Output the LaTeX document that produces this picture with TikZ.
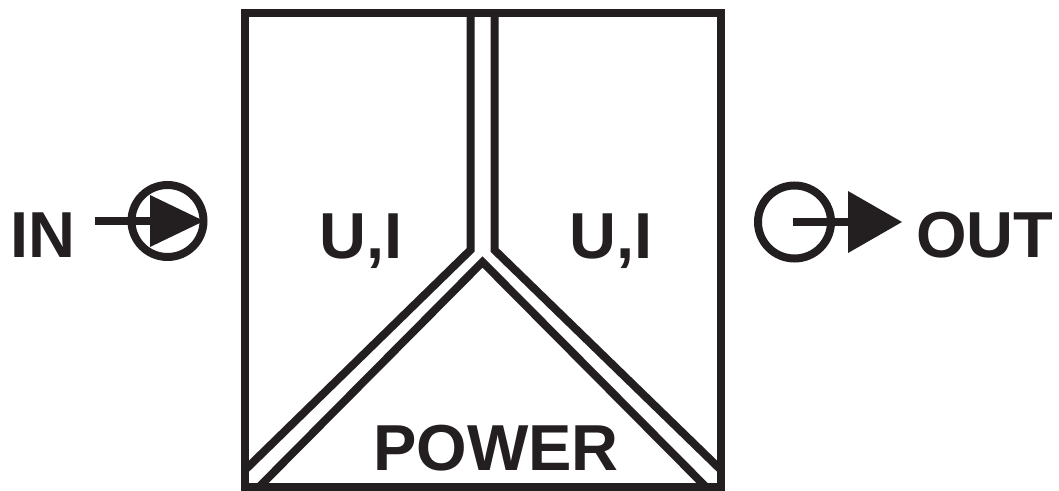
\documentclass[tikz,border=0pt]{standalone}
\usepackage{fontspec}
\setmainfont{Liberation Sans}
\definecolor{ink}{HTML}{231F20}
\tikzset{
  wire/.style={draw=ink,line width=8pt,line cap=butt,line join=miter},
  tip/.style={fill=ink,draw=none},
  lbl/.style={text=ink,font=\fontsize{65}{65}\selectfont\bfseries,inner sep=0pt,anchor=base}
}
\begin{document}
\begin{tikzpicture}[x=1pt,y=-1pt]
\useasboundingbox (0,0) rectangle (1059,490);
\fill[white] (0,0) rectangle (1059,490);
% key points
\coordinate (tl) at (245,13);
\coordinate (br) at (721,487);
\coordinate (v1t) at (470.5,13);
\coordinate (v2t) at (494.5,13);
\coordinate (v1b) at (470.5,250);
\coordinate (v2b) at (494.5,250);
\coordinate (ll) at (245,470);
\coordinate (rl) at (721,470);
\coordinate (apex) at (482.5,262);
\coordinate (lb) at (259,487);
\coordinate (rb) at (706,487);
% box
\draw[wire] (tl) rectangle (br);
% channels
\draw[wire] (v1t) -- (v1b) -- (ll);
\draw[wire] (v2t) -- (v2b) -- (rl);
\draw[wire] (lb) -- (apex) -- (rb);
% input symbol
\node[circle,draw=ink,line width=8pt,minimum size=72pt,inner sep=0pt] (incirc) at (167.5,221) {};
\coordinate (instart) at (95,221);
\coordinate (inend) at (152,221);
\draw[wire] (instart) -- (inend);
\fill[tip] (150,195) -- (204,221) -- (150,247) -- cycle;
% output symbol
\node[circle,draw=ink,line width=8pt,minimum size=73pt,inner sep=0pt] (outcirc) at (794.5,222) {};
\coordinate (outstart) at (793,222);
\coordinate (outend) at (850,222);
\draw[wire] (outstart) -- (outend);
\fill[tip] (848,191) -- (902,222) -- (848,253) -- cycle;
% labels
\node[lbl] (in) at (43,257) {IN};
\node[lbl] (ui1) at (361,258) {U,I};
\node[lbl] (ui2) at (611,258) {U,I};
\node[lbl] (out) at (985,257) {OUT};
\node[lbl] (power) at (496,470) {POWER};
\end{tikzpicture}
\end{document}
